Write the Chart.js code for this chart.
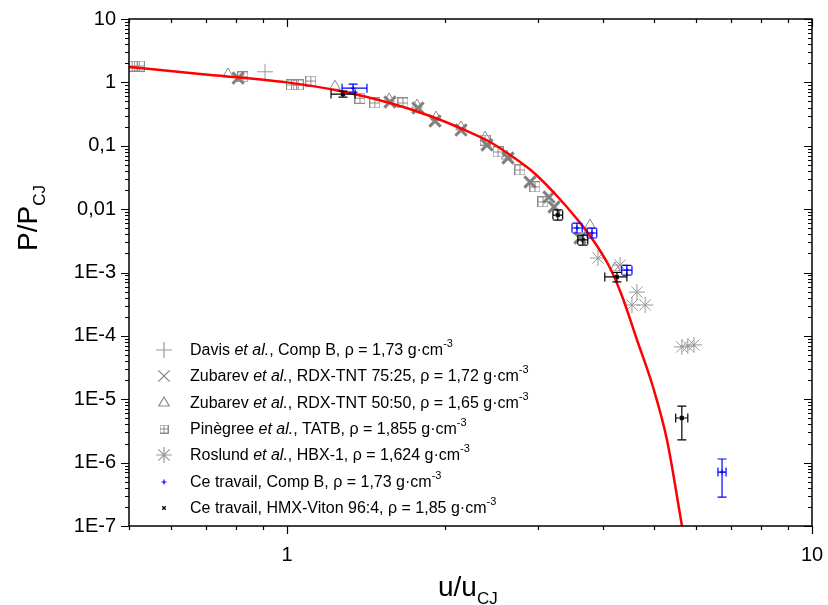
<!DOCTYPE html>
<html>
<head>
<meta charset="utf-8">
<script src="https://cdn.jsdelivr.net/npm/chart.js@4/dist/chart.umd.min.js"></script>
<style>
  html, body { margin: 0; padding: 0; background: #fff; }
  #chart { display: block; }
</style>
</head>
<body>
<canvas id="chart" width="828" height="605"></canvas>
<script>
// ---------------- data ----------------
const xTickValues = [1, 10];
const xTickLabels = ['1', '10'];
const yTickValues = [1e-7, 1e-6, 1e-5, 1e-4, 1e-3, 0.01, 0.1, 1, 10];
const yTickLabels = ['1E-7', '1E-6', '1E-5', '1E-4', '1E-3', '0,01', '0,1', '1', '10'];

// model curve (red)
const curveU = [0.5, 0.683, 1.0, 1.262, 1.571, 1.873, 2.136, 2.436, 2.66, 2.942, 3.268, 3.567, 3.827, 4.124, 4.346, 4.642, 4.979, 5.294, 5.654];
const curveP = [1.75, 1.356, 1.0, 0.731, 0.473, 0.2948, 0.1906, 0.1146, 0.0714, 0.0385, 0.0161, 0.00698, 0.00326, 0.001178, 4.26e-4, 8.61e-5, 1.56e-5, 2.28e-6, 1e-7];

// Davis et al., Comp B
const davisU = [0.908];
const davisP = [1.47];

// Zubarev et al., RDX-TNT 75:25
const zub75U = [0.807, 1.571, 1.776, 1.914, 2.145, 2.404, 2.636, 2.903, 3.155, 3.226, 3.615];
const zub75P = [1.17, 0.49, 0.394, 0.246, 0.177, 0.1027, 0.0641, 0.0268, 0.0155, 0.0108, 0.0035];

// Zubarev et al., RDX-TNT 50:50
const zub50U = [0.772, 1.234, 1.565, 1.769, 1.922, 2.145, 2.384, 2.62, 3.776, 4.215];
const zub50P = [1.355, 0.87, 0.547, 0.44, 0.284, 0.198, 0.137, 0.0689, 0.0056, 0.00118];

// Pinègree et al., TATB
const pinU = [0.507, 0.523, 0.824, 1.02, 1.05, 1.11, 1.377, 1.47, 1.663, 2.384, 2.523, 2.778, 2.967, 3.073];
const pinP = [1.81, 1.81, 1.22, 0.91, 0.91, 1.05, 0.562, 0.473, 0.473, 0.123, 0.0797, 0.0415, 0.0224, 0.013];

// Roslund et al., HBX-1
const rosU = [3.912, 4.31, 4.64, 4.54, 4.81, 5.65, 5.80, 5.96];
const rosP = [0.00169, 0.00131, 4.9e-4, 3.07e-4, 3.07e-4, 6.7e-5, 6.9e-5, 7.2e-5];

// Ce travail, Comp B (with error bars)
const cbU = [1.336, 3.567, 3.81, 4.44, 6.74];
const cbP = [0.81, 0.00504, 0.0042, 0.00109, 7.1e-7];
const cbULo = [1.273, 3.49, 3.73, 4.34, 6.62];
const cbUHi = [1.42, 3.65, 3.89, 4.54, 6.86];
const cbPLo = [0.70, 0.0042, 0.0035, 0.00091, 2.86e-7];
const cbPHi = [0.94, 0.006, 0.005, 0.0013, 1.14e-6];

// Ce travail, HMX-Viton 96:4 (with error bars)
const hmU = [1.278, 3.28, 3.66, 4.25, 5.65];
const hmP = [0.653, 0.00807, 0.00326, 8.5e-4, 5.06e-6];
const hmULo = [1.213, 3.21, 3.58, 4.03, 5.5];
const hmUHi = [1.348, 3.35, 3.74, 4.44, 5.8];
const hmPLo = [0.586, 0.0067, 0.0027, 7.1e-4, 2.28e-6];
const hmPHi = [0.73, 0.0097, 0.0039, 1.0e-3, 7.8e-6];

const legendLabels = [
  [['Davis '], ['et al.', 'i'], [', Comp B, ρ = 1,73 g·cm'], ['-3', 'sup']],
  [['Zubarev '], ['et al.', 'i'], [', RDX-TNT 75:25, ρ = 1,72 g·cm'], ['-3', 'sup']],
  [['Zubarev '], ['et al.', 'i'], [', RDX-TNT 50:50, ρ = 1,65 g·cm'], ['-3', 'sup']],
  [['Pinègree '], ['et al.', 'i'], [', TATB, ρ = 1,855 g·cm'], ['-3', 'sup']],
  [['Roslund '], ['et al.', 'i'], [', HBX-1, ρ = 1,624 g·cm'], ['-3', 'sup']],
  [['Ce travail, Comp B, ρ = 1,73 g·cm'], ['-3', 'sup']],
  [['Ce travail, HMX-Viton 96:4, ρ = 1,85 g·cm'], ['-3', 'sup']]
];

// ---------------- helpers ----------------
const FONT = '"Liberation Sans", Arial, sans-serif';
const GRAY = '#8c8c8c';

function zip(xs, ys) {
  return xs.map((v, i) => ({ x: v, y: ys[i] }));
}

// square with a cross inside, used for the TATB series
function makeBoxPlus(size, color) {
  const c = document.createElement('canvas');
  c.width = size; c.height = size;
  const g = c.getContext('2d');
  g.strokeStyle = color;
  g.lineWidth = 1;
  g.strokeRect(0.5, 0.5, size - 1, size - 1);
  const m = Math.floor(size / 2) + 0.5;
  g.beginPath();
  g.moveTo(0, m); g.lineTo(size, m);
  g.moveTo(m, 0); g.lineTo(m, size);
  g.stroke();
  return c;
}
const boxPlus = makeBoxPlus(11, GRAY);
const boxPlusSmall = makeBoxPlus(9, GRAY);

function drawRuns(ctx, runs, x, y, size) {
  runs.forEach(r => {
    const txt = r[0], kind = r[1];
    let s = size, dy = 0, style = '';
    if (kind === 'i') style = 'italic ';
    if (kind === 'sup') { s = Math.round(size * 0.66); dy = -size * 0.42; }
    if (kind === 'sub') { s = Math.round(size * 0.62); dy = size * 0.3; }
    ctx.font = style + s + 'px ' + FONT;
    ctx.fillText(txt, x, y + dy);
    x += ctx.measureText(txt).width;
  });
  return x;
}

// error bars drawn through the chart's own scales
const errorSets = [
  { u: cbU, p: cbP, uLo: cbULo, uHi: cbUHi, pLo: cbPLo, pHi: cbPHi, color: '#0000ff' },
  { u: hmU, p: hmP, uLo: hmULo, uHi: hmUHi, pLo: hmPLo, pHi: hmPHi, color: '#000000' }
];

const errorBarPlugin = {
  id: 'errorBars',
  afterDatasetsDraw(chart) {
    const { ctx, chartArea, scales: { x, y } } = chart;
    const cap = 4.5;
    ctx.save();
    ctx.beginPath();
    ctx.rect(chartArea.left, chartArea.top, chartArea.right - chartArea.left, chartArea.bottom - chartArea.top);
    ctx.clip();
    ctx.lineWidth = 1.2;
    errorSets.forEach(s => {
      ctx.strokeStyle = s.color;
      s.u.forEach((u, i) => {
        const px = x.getPixelForValue(u), py = y.getPixelForValue(s.p[i]);
        const x0 = x.getPixelForValue(s.uLo[i]), x1 = x.getPixelForValue(s.uHi[i]);
        const y0 = y.getPixelForValue(s.pLo[i]), y1 = y.getPixelForValue(s.pHi[i]);
        ctx.beginPath();
        ctx.moveTo(x0, py); ctx.lineTo(x1, py);
        ctx.moveTo(x0, py - cap); ctx.lineTo(x0, py + cap);
        ctx.moveTo(x1, py - cap); ctx.lineTo(x1, py + cap);
        ctx.moveTo(px, y0); ctx.lineTo(px, y1);
        ctx.moveTo(px - cap, y0); ctx.lineTo(px + cap, y0);
        ctx.moveTo(px - cap, y1); ctx.lineTo(px + cap, y1);
        ctx.stroke();
      });
    });
    ctx.restore();
  }
};

// frame, Origin-style ticks, titles and legend
const framePlugin = {
  id: 'frame',
  afterDraw(chart) {
    const { ctx, chartArea: { left, right, top, bottom }, scales: { x, y } } = chart;
    ctx.save();
    ctx.strokeStyle = '#000';
    ctx.lineWidth = 1.5;
    ctx.strokeRect(left, top, right - left, bottom - top);

    ctx.lineWidth = 1.2;
    ctx.beginPath();
    for (let e = -1; e <= 1; e++) {
      for (let m = 1; m <= 9; m++) {
        const v = m * Math.pow(10, e);
        if (v < x.min - 1e-9 || v > x.max + 1e-9) continue;
        const px = Math.round(x.getPixelForValue(v)) + 0.5;
        const len = m === 1 ? 8 : 4;
        ctx.moveTo(px, bottom); ctx.lineTo(px, bottom + len);
        ctx.moveTo(px, top); ctx.lineTo(px, top + len);
      }
    }
    for (let e = -7; e <= 1; e++) {
      for (let m = 1; m <= 9; m++) {
        const v = m * Math.pow(10, e);
        if (v < y.min * 0.999 || v > y.max * 1.001) continue;
        const py = Math.round(y.getPixelForValue(v)) + 0.5;
        const len = m === 1 ? 8 : 4;
        ctx.moveTo(left - len, py); ctx.lineTo(left, py);
        ctx.moveTo(right - len, py); ctx.lineTo(right, py);
      }
    }
    ctx.stroke();

    // axis titles
    ctx.fillStyle = '#000';
    ctx.textBaseline = 'alphabetic';
    ctx.textAlign = 'left';
    drawRuns(ctx, [['u/u'], ['CJ', 'sub']], 438, 596, 28);
    ctx.save();
    ctx.translate(37, 251);
    ctx.rotate(-Math.PI / 2);
    drawRuns(ctx, [['P/P'], ['CJ', 'sub']], 0, 0, 28);
    ctx.restore();

    // legend
    const ds = chart.data.datasets;
    const rowY = [350, 376, 403, 429, 455, 482, 508];
    const order = [1, 2, 3, 4, 5, 6, 7];
    order.forEach((di, row) => {
      const d = ds[di];
      const yy = rowY[row];
      ctx.save();
      ctx.strokeStyle = d.borderColor;
      ctx.fillStyle = d.backgroundColor || 'rgba(0,0,0,0)';
      const ps = d.pointStyle === boxPlus ? boxPlusSmall : d.pointStyle;
      Chart.helpers.drawPoint(ctx, {
        pointStyle: ps, radius: d.pointRadius, borderWidth: d.borderWidth, rotation: 0
      }, 164, yy);
      ctx.restore();
      ctx.fillStyle = '#000';
      ctx.textBaseline = 'middle';
      drawRuns(ctx, legendLabels[row], 190, yy + 1, 16);
    });
    ctx.restore();
  }
};

// ---------------- chart ----------------
const ctx = document.getElementById('chart').getContext('2d');
new Chart(ctx, {
  type: 'scatter',
  data: {
    datasets: [
      {
        label: 'modèle',
        data: zip(curveU, curveP),
        showLine: true,
        borderColor: '#ff0000',
        borderWidth: 2.5,
        pointRadius: 0,
        cubicInterpolationMode: 'monotone',
        order: 0
      },
      {
        label: 'Davis',
        data: zip(davisU, davisP),
        pointStyle: 'cross', pointRadius: 8, borderWidth: 1,
        borderColor: '#9a9a9a', backgroundColor: 'rgba(0,0,0,0)', order: 1
      },
      {
        label: 'Zubarev 75:25',
        data: zip(zub75U, zub75P),
        pointStyle: 'crossRot', pointRadius: 8, borderWidth: 3,
        borderColor: '#808080', backgroundColor: 'rgba(0,0,0,0)', order: 2
      },
      {
        label: 'Zubarev 50:50',
        data: zip(zub50U, zub50P),
        pointStyle: 'triangle', pointRadius: 6, borderWidth: 1,
        borderColor: GRAY, backgroundColor: 'rgba(0,0,0,0)', order: 3
      },
      {
        label: 'Pinègree',
        data: zip(pinU, pinP),
        pointStyle: boxPlus, pointRadius: 5, borderWidth: 1,
        borderColor: GRAY, backgroundColor: 'rgba(0,0,0,0)', order: 4
      },
      {
        label: 'Roslund',
        data: zip(rosU, rosP),
        pointStyle: 'star', pointRadius: 8, borderWidth: 1,
        borderColor: '#999999', backgroundColor: 'rgba(0,0,0,0)', order: 5
      },
      {
        label: 'Ce travail, Comp B',
        data: zip(cbU, cbP),
        pointStyle: 'cross', pointRadius: 2.5, borderWidth: 1,
        borderColor: '#0000ff', backgroundColor: 'rgba(0,0,0,0)', order: 6
      },
      {
        label: 'Ce travail, HMX-Viton',
        data: zip(hmU, hmP),
        pointStyle: 'crossRot', pointRadius: 2.5, borderWidth: 2,
        borderColor: '#000000', backgroundColor: 'rgba(0,0,0,0)', order: 7
      }
    ]
  },
  options: {
    responsive: false,
    animation: false,
    devicePixelRatio: 1,
    layout: { padding: { left: 0, top: 19, right: 16, bottom: 0 } },
    plugins: {
      legend: { display: false },
      tooltip: { enabled: false }
    },
    scales: {
      x: {
        type: 'logarithmic',
        min: 0.5,
        max: 10,
        afterBuildTicks: s => { s.ticks = xTickValues.map(v => ({ value: v })); },
        afterFit: s => { s.height = 605 - 526; s.paddingLeft = 0; s.paddingRight = 0; },
        grid: { display: false, drawTicks: false },
        border: { display: false },
        ticks: {
          autoSkip: false,
          maxRotation: 0,
          padding: 17,
          color: '#000',
          font: { family: FONT, size: 20 },
          callback: (v, i) => xTickLabels[i]
        }
      },
      y: {
        type: 'logarithmic',
        min: 1e-7,
        max: 10,
        afterBuildTicks: s => { s.ticks = yTickValues.map(v => ({ value: v })); },
        afterFit: s => { s.width = 129; s.paddingTop = 0; s.paddingBottom = 0; },
        grid: { display: false, drawTicks: false },
        border: { display: false },
        ticks: {
          autoSkip: false,
          padding: 13,
          color: '#000',
          font: { family: FONT, size: 20 },
          callback: (v, i) => yTickLabels[i]
        }
      }
    }
  },
  plugins: [errorBarPlugin, framePlugin]
});
</script>
</body>
</html>
